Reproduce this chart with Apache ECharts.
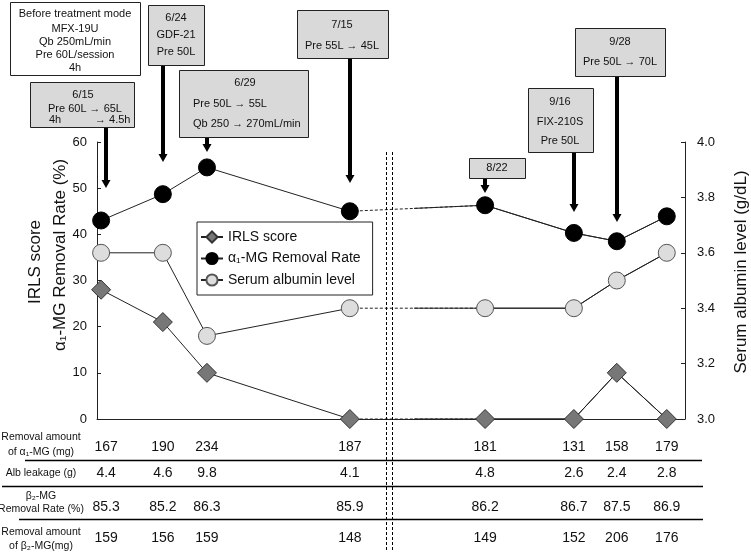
<!DOCTYPE html>
<html>
<head>
<meta charset="utf-8">
<script src="https://cdn.jsdelivr.net/npm/echarts@6/dist/echarts.min.js"></script>
<style>html,body{margin:0;padding:0;background:#fff}#main{width:751px;height:554px}</style>
</head>
<body>
<div id="main"></div>
<script>
// position of each session on the (broken) horizontal axis
const xPos = [0.07, 1.12, 1.87, 4.30, 6.60, 8.11, 8.84, 9.69];
const irls = [28, 21, 10, 0, 0, 0, 10, 0];
const a1Rate = [43, 48.7, 54.5, 45, 46.3, 40.3, 38.5, 43.9];
const albumin = [3.6, 3.6, 3.3, 3.4, 3.4, 3.4, 3.5, 3.6];

// table under the chart
const a1Amount = [167, 190, 234, 187, 181, 131, 158, 179];
const albLeak = ['4.4', '4.6', '9.8', '4.1', '4.8', '2.6', '2.4', '2.8'];
const b2Rate = ['85.3', '85.2', '86.3', '85.9', '86.2', '86.7', '87.5', '86.9'];
const b2Amount = [159, 156, 159, 148, 149, 152, 206, 176];

const FONT = '"Liberation Sans", Arial, sans-serif';
const INK = '#111';
const GL = 97, GR = 66, GT = 142, GB = 135;
const unit = (751 - GL - GR) / 10;
const breakAt = 5.41; // dashed part of the connecting lines ends here

const chart = echarts.init(document.getElementById('main'));

function pts(vals, from, to) {
  const out = [];
  for (let i = from; i <= to; i++) out.push([xPos[i], vals[i]]);
  return out;
}

// each curve = solid part, dashed bridge, solid part after the break
function metric(name, vals, yIdx, sym) {
  const line = { color: '#222', width: 1 };
  return [
    { name, type: 'line', xAxisIndex: 0, yAxisIndex: yIdx, data: pts(vals, 0, 3), lineStyle: line, ...sym, z: 4 },
    { name, type: 'line', xAxisIndex: 0, yAxisIndex: yIdx, data: pts(vals, 3, 4), lineStyle: { ...line, type: [3, 2] }, symbol: 'none', z: 2 },
    { name, type: 'line', xAxisIndex: 1, yAxisIndex: yIdx + 2, data: pts(vals, 3, 7), lineStyle: line, symbol: 'none', z: 2 },
    { name, type: 'line', xAxisIndex: 0, yAxisIndex: yIdx, data: pts(vals, 4, 7), lineStyle: line, ...sym, z: 4 }
  ];
}

const hiddenY = (min, max) => ({ type: 'value', gridIndex: 1, min, max, show: false, splitLine: { show: false } });

const option = {
  animation: false,
  backgroundColor: '#fff',
  textStyle: { fontFamily: FONT },
  grid: [
    { left: GL, right: GR, top: GT, bottom: GB },
    { left: GL + breakAt * unit, right: GR, top: GT, bottom: GB }
  ],
  xAxis: [
    { type: 'value', gridIndex: 0, min: 0, max: 10, axisLine: { onZero: false, lineStyle: { color: '#222', width: 1 } },
      axisTick: { show: false }, axisLabel: { show: false }, splitLine: { show: false } },
    { type: 'value', gridIndex: 1, min: breakAt, max: 10, show: false, splitLine: { show: false } }
  ],
  yAxis: [
    { type: 'value', gridIndex: 0, position: 'left', min: 0, max: 60, interval: 10,
      axisLine: { show: true, onZero: false, lineStyle: { color: '#222' } },
      axisTick: { show: true, inside: true, length: 4, lineStyle: { color: '#222' } },
      axisLabel: { fontSize: 13, color: INK, margin: 10, fontFamily: FONT },
      splitLine: { show: false } },
    { type: 'value', gridIndex: 0, position: 'right', min: 3, max: 4, interval: 0.2,
      axisLine: { show: true, onZero: false, lineStyle: { color: '#222' } },
      axisTick: { show: true, inside: true, length: 4, lineStyle: { color: '#222' } },
      axisLabel: { fontSize: 13, color: INK, margin: 12, fontFamily: FONT, formatter: v => v.toFixed(1) },
      splitLine: { show: false } },
    hiddenY(0, 60),
    hiddenY(3, 4)
  ],
  legend: {
    orient: 'vertical', left: 197, top: 222, padding: [8, 12, 8, 3], itemGap: 7.5,
    itemWidth: 22, itemHeight: 14, borderColor: '#222', borderWidth: 1, backgroundColor: '#fff',
    selectedMode: false, textStyle: { fontSize: 14, color: INK, fontFamily: FONT },
    data: ['IRLS score', 'α₁-MG Removal Rate', 'Serum albumin level']
  },
  series: [
    ...metric('IRLS score', irls, 0, { symbol: 'diamond', symbolSize: 19, itemStyle: { color: '#777', borderColor: '#333', borderWidth: 1 } }),
    ...metric('α₁-MG Removal Rate', a1Rate, 0, { symbol: 'circle', symbolSize: 17, itemStyle: { color: '#000', borderColor: '#000', borderWidth: 1 } }),
    ...metric('Serum albumin level', albumin, 1, { symbol: 'circle', symbolSize: 17, itemStyle: { color: '#ddd', borderColor: '#555', borderWidth: 1 } })
  ]
};
chart.setOption(option);

// ---- annotations, titles and table ----
const px = i => chart.convertToPixel({ xAxisIndex: 0 }, xPos[i]);
const g = [];
function txt(text, x, y, size, align, extra) {
  g.push({ type: 'text', z: 50, x, y, ...(extra || {}),
    style: { text, fontSize: size, fontFamily: FONT, fill: INK, align: align || 'center', verticalAlign: 'middle' } });
}
function hline(x1, x2, y, w, dash) {
  g.push({ type: 'line', z: 40, shape: { x1, y1: y, x2, y2: y }, style: { stroke: '#000', lineWidth: w || 1, lineDash: dash } });
}

const notes = [
  { at: null, box: [10, 2, 130, 73], fill: '#fff', texts: [['Before treatment mode', 75, 14], ['MFX-19U', 75, 29], ['Qb 250mL/min', 75, 42], ['Pre 60L/session', 75, 55], ['4h', 75, 68]] },
  { at: 0, dx: 5, box: [30, 82, 104, 45], tip: 188, texts: [['6/15', 83, 95], ['Pre 60L → 65L', 48, 109, 'left'], ['4h', 49, 120, 'left'], ['→ 4.5h', 95, 120, 'left']] },
  { at: 1, box: [148, 5, 56, 60], tip: 162, texts: [['6/24', 176, 18], ['GDF-21', 176, 35], ['Pre 50L', 176, 52]] },
  { at: 2, box: [179, 70, 129, 67], tip: 152, texts: [['6/29', 245, 83], ['Pre 50L → 55L', 193, 104, 'left'], ['Qb 250 → 270mL/min', 193, 124, 'left']] },
  { at: 3, box: [297, 10, 91, 48], tip: 183, texts: [['7/15', 342, 25], ['Pre 55L → 45L', 342, 46]] },
  { at: 4, box: [469, 158, 56, 20], tip: 193, texts: [['8/22', 497, 168]] },
  { at: 5, box: [528, 88, 65, 64], tip: 212, texts: [['9/16', 560, 102], ['FIX-210S', 560, 122], ['Pre 50L', 560, 141]] },
  { at: 6, box: [575, 28, 90, 48], tip: 222, texts: [['9/28', 620, 42], ['Pre 50L → 70L', 620, 62]] }
];
notes.forEach(n => {
  const [bx, by, bw, bh] = n.box;
  g.push({ type: 'rect', z: 45, shape: { x: bx + 0.5, y: by + 0.5, width: bw, height: bh },
    style: { fill: n.fill || '#d9d9d9', stroke: '#222', lineWidth: 1 } });
  n.texts.forEach(t => txt(t[0], t[1], t[2], 11, t[3]));
  if (n.at !== null) {
    const ax = Math.round(px(n.at)) + (n.dx || 0);
    g.push({ type: 'line', z: 45, shape: { x1: ax, y1: by + bh + 1, x2: ax, y2: n.tip - 6 }, style: { stroke: '#000', lineWidth: 4 } });
    g.push({ type: 'polygon', z: 45, shape: { points: [[ax - 4.5, n.tip - 8], [ax + 4.5, n.tip - 8], [ax, n.tip]] }, style: { fill: '#000' } });
  }
});

// axis titles
txt('IRLS score', 35, 262, 17, 'center', { rotation: Math.PI / 2 });
txt('α₁-MG Removal Rate (%)', 60, 255, 17, 'center', { rotation: Math.PI / 2 });
txt('Serum albumin level (g/dL)', 741, 272, 17, 'center', { rotation: Math.PI / 2 });

// break marks
[386.5, 392.5].forEach(x => g.push({ type: 'line', z: 40, shape: { x1: x, y1: 152, x2: x, y2: 552 }, style: { stroke: '#000', lineWidth: 1, lineDash: [3, 2] } }));

// table rows
const rows = [
  { labels: [['Removal amount', 437], ['of α₁-MG (mg)', 452]], vals: a1Amount, y: 447 },
  { labels: [['Alb leakage (g)', 473]], vals: albLeak, y: 473 },
  { labels: [['β₂-MG', 496], ['Removal Rate (%)', 509]], vals: b2Rate, y: 507 },
  { labels: [['Removal amount', 532], ['of β₂-MG(mg)', 546]], vals: b2Amount, y: 538 }
];
rows.forEach(r => {
  r.labels.forEach(l => txt(l[0], 41, l[1], 10.5));
  r.vals.forEach((v, i) => txt(String(v), px(i) + (i === 0 ? 5 : 0), r.y, 14));
});
hline(25, 702, 460.5, 1.5);
hline(2, 703, 486.5, 1.5);
hline(19, 703, 519.5, 1.5);

chart.setOption({ graphic: g });
</script>
</body>
</html>
